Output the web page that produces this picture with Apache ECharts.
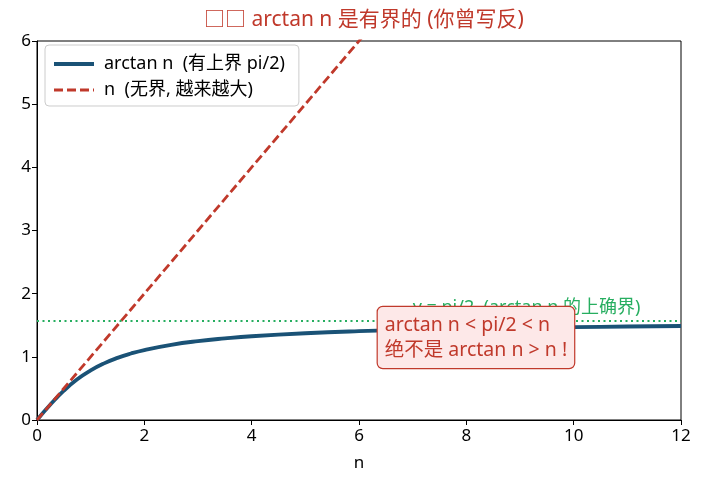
<!DOCTYPE html>
<html>
<head>
<meta charset="utf-8">
<script src="https://cdn.jsdelivr.net/npm/echarts@6/dist/echarts.min.js"></script>
<style>
  html, body { margin: 0; padding: 0; background: #fff; }
  #main { width: 704px; height: 490px; }
</style>
</head>
<body>
<div id="main"></div>
<script>
// 读图得到的数据
var nValues = [0, 0.25, 0.5, 0.75, 1, 1.25, 1.5, 1.75, 2, 2.5, 3, 3.5, 4, 5, 6, 7, 8, 9, 10, 11, 12];
var arctanValues = [0, 0.245, 0.464, 0.644, 0.785, 0.896, 0.983, 1.052, 1.107, 1.190, 1.249, 1.292, 1.326, 1.373, 1.406, 1.429, 1.446, 1.460, 1.471, 1.480, 1.488];
var lineN = [0, 12];
var lineY = [0, 12];
var supValue = 1.5708;
var xTicks = [0, 2, 4, 6, 8, 10, 12];
var yTicks = [0, 1, 2, 3, 4, 5, 6];

var FONT = '"Noto Sans", "Noto Sans CJK SC", sans-serif';
var RED = '#c0392b';
var BLUE = '#1a5276';
var GREEN = '#27ae60';

var chart = echarts.init(document.getElementById('main'));

var option = {
  backgroundColor: '#fff',
  textStyle: { fontFamily: FONT },
  animation: false,
  title: {
    text: '□□ arctan n 是有界的 (你曾写反)',
    left: 199,
    top: 5,
    textStyle: { color: RED, fontSize: 21, fontWeight: 'normal', fontFamily: FONT }
  },
  legend: {
    orient: 'vertical',
    left: 45,
    top: 45,
    padding: [10, 14, 7, 7],
    itemGap: 8,
    itemWidth: 40,
    itemHeight: 18,
    backgroundColor: '#fff',
    borderColor: '#cccccc',
    borderWidth: 1,
    borderRadius: 4,
    itemStyle: { opacity: 0 },
    textStyle: { fontSize: 18, color: '#000', fontFamily: FONT, padding: [0, 0, 0, 5] },
    data: [
      { name: 'arctan n  (有上界 pi/2)', lineStyle: { width: 4 } },
      { name: 'n  (无界, 越来越大)', lineStyle: { width: 3 } }
    ]
  },
  grid: {
    left: 37, right: 23, top: 41, bottom: 70,
    show: true, borderColor: '#000', borderWidth: 1
  },
  xAxis: {
    type: 'value',
    min: 0, max: 12, interval: 2,
    name: 'n',
    nameLocation: 'middle',
    nameGap: 35,
    nameTextStyle: { fontSize: 17, color: '#000' },
    axisLine: { show: true, onZero: false, lineStyle: { color: '#000' } },
    axisTick: { show: true, length: 5, lineStyle: { color: '#000' } },
    axisLabel: { fontSize: 17, color: '#000', margin: 8 },
    splitLine: { show: false }
  },
  yAxis: {
    type: 'value',
    min: 0, max: 6, interval: 1,
    axisLine: { show: true, onZero: false, lineStyle: { color: '#000' } },
    axisTick: { show: true, length: 5, lineStyle: { color: '#000' } },
    axisLabel: { fontSize: 17, color: '#000', margin: 6 },
    splitLine: { show: false }
  },
  series: [
    {
      name: 'arctan n  (有上界 pi/2)',
      type: 'line',
      smooth: true,
      symbol: 'none',
      data: nValues.map(function (n, i) { return [n, arctanValues[i]]; }),
      lineStyle: { color: BLUE, width: 3.8 },
      itemStyle: { color: BLUE },
      z: 3,
      markLine: {
        silent: true,
        symbol: 'none',
        label: { show: false },
        lineStyle: { color: GREEN, type: [2, 3.5], width: 2 },
        data: [{ yAxis: supValue }]
      }
    },
    {
      name: 'n  (无界, 越来越大)',
      type: 'line',
      symbol: 'none',
      clip: true,
      data: lineN.map(function (n, i) { return [n, lineY[i]]; }),
      lineStyle: { color: RED, width: 2.8, type: [9, 4] },
      itemStyle: { color: RED },
      z: 4
    },
    {
      type: 'scatter',
      symbolSize: 0,
      silent: true,
      itemStyle: { opacity: 1 },
      data: [[7, 1.78]],
      label: {
        show: true, position: 'right', distance: 0,
        formatter: 'y = pi/2  (arctan n 的上确界)',
        color: GREEN, fontSize: 18, fontFamily: FONT
      },
      z: 4
    },
    {
      type: 'scatter',
      symbolSize: 0,
      silent: true,
      itemStyle: { opacity: 1 },
      data: [[6.35, 1.306]],
      label: {
        show: true, position: 'right', distance: 0,
        formatter: 'arctan n < pi/2 < n\n绝不是 arctan n > n !',
        color: RED, fontSize: 19.5, lineHeight: 25, fontFamily: FONT,
        backgroundColor: '#fde8e8',
        borderColor: RED, borderWidth: 1.2, borderRadius: 5,
        padding: [6, 7, 5, 7]
      },
      z: 5
    }
  ]
};

chart.setOption(option);
</script>
</body>
</html>
